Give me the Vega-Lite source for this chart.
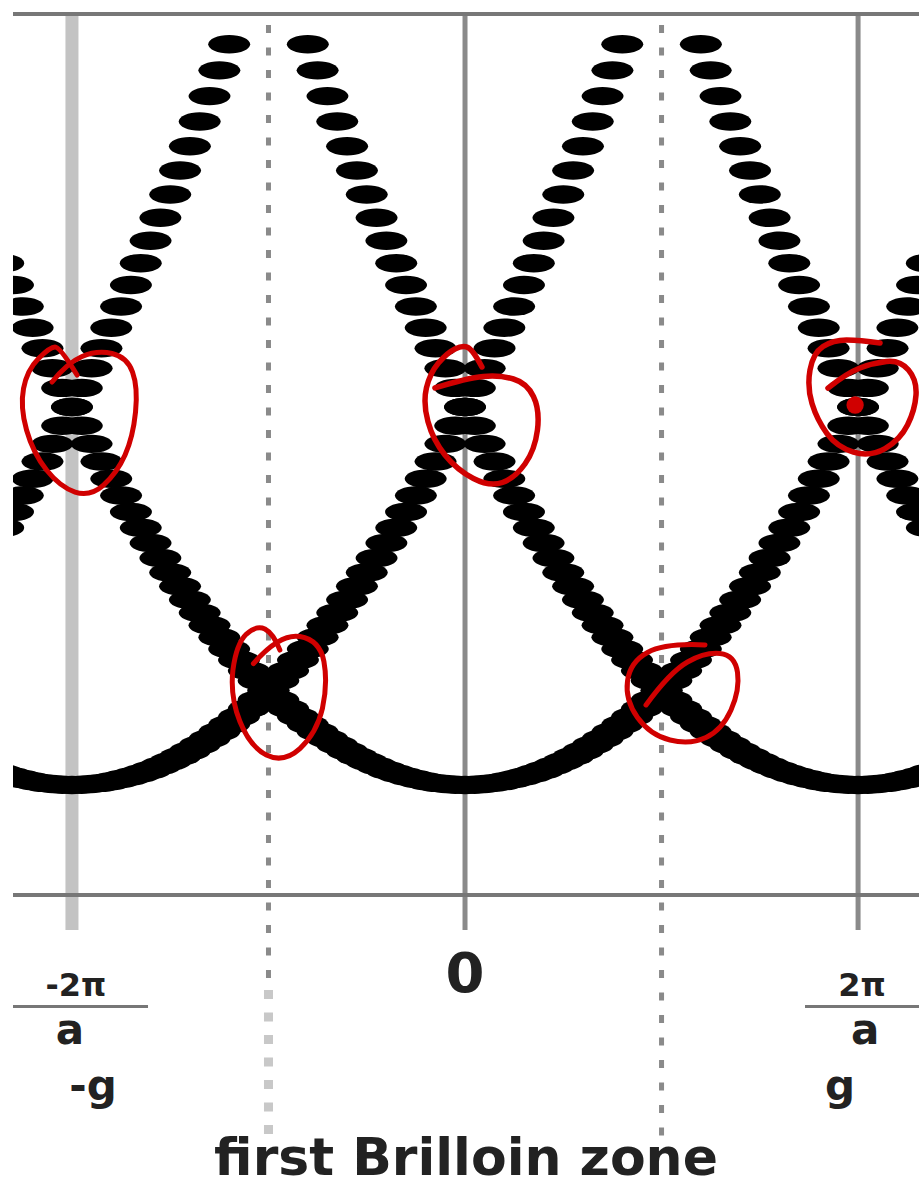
{
  "$schema": "https://vega.github.io/schema/vega-lite/v6.json",
  "width": 906,
  "height": 881,
  "autosize": {"type": "none"},
  "padding": {"left": 13, "top": 14, "right": 0, "bottom": 293},
  "background": "white",
  "config": {"view": {"stroke": null}},
  "datasets": {
    "bands": [
      {"b":"p0","k":-2.35,"E":5.5225},{"b":"p0","k":-2.3,"E":5.29},{"b":"p0","k":-2.25,"E":5.0625},{"b":"p0","k":-2.2,"E":4.84},
      {"b":"p0","k":-2.15,"E":4.6225},{"b":"p0","k":-2.1,"E":4.41},{"b":"p0","k":-2.05,"E":4.2025},{"b":"p0","k":-2,"E":4},
      {"b":"p0","k":-1.95,"E":3.8025},{"b":"p0","k":-1.9,"E":3.61},{"b":"p0","k":-1.85,"E":3.4225},{"b":"p0","k":-1.8,"E":3.24},
      {"b":"p0","k":-1.75,"E":3.0625},{"b":"p0","k":-1.7,"E":2.89},{"b":"p0","k":-1.65,"E":2.7225},{"b":"p0","k":-1.6,"E":2.56},
      {"b":"p0","k":-1.55,"E":2.4025},{"b":"p0","k":-1.5,"E":2.25},{"b":"p0","k":-1.45,"E":2.1025},{"b":"p0","k":-1.4,"E":1.96},
      {"b":"p0","k":-1.35,"E":1.8225},{"b":"p0","k":-1.3,"E":1.69},{"b":"p0","k":-1.25,"E":1.5625},{"b":"p0","k":-1.2,"E":1.44},
      {"b":"p0","k":-1.15,"E":1.3225},{"b":"p0","k":-1.1,"E":1.21},{"b":"p0","k":-1.05,"E":1.1025},{"b":"p0","k":-1,"E":1},
      {"b":"p0","k":-0.95,"E":0.9025},{"b":"p0","k":-0.9,"E":0.81},{"b":"p0","k":-0.85,"E":0.7225},{"b":"p0","k":-0.8,"E":0.64},
      {"b":"p0","k":-0.75,"E":0.5625},{"b":"p0","k":-0.7,"E":0.49},{"b":"p0","k":-0.65,"E":0.4225},{"b":"p0","k":-0.6,"E":0.36},
      {"b":"p0","k":-0.55,"E":0.3025},{"b":"p0","k":-0.5,"E":0.25},{"b":"p0","k":-0.45,"E":0.2025},{"b":"p0","k":-0.4,"E":0.16},
      {"b":"p0","k":-0.35,"E":0.1225},{"b":"p0","k":-0.3,"E":0.09},{"b":"p0","k":-0.25,"E":0.0625},{"b":"p0","k":-0.2,"E":0.04},
      {"b":"p0","k":-0.15,"E":0.0225},{"b":"p0","k":-0.1,"E":0.01},{"b":"p0","k":-0.05,"E":0.0025},{"b":"p0","k":0,"E":0},
      {"b":"p0","k":0.05,"E":0.0025},{"b":"p0","k":0.1,"E":0.01},{"b":"p0","k":0.15,"E":0.0225},{"b":"p0","k":0.2,"E":0.04},
      {"b":"p0","k":0.25,"E":0.0625},{"b":"p0","k":0.3,"E":0.09},{"b":"p0","k":0.35,"E":0.1225},{"b":"p0","k":0.4,"E":0.16},
      {"b":"p0","k":0.45,"E":0.2025},{"b":"p0","k":0.5,"E":0.25},{"b":"p0","k":0.55,"E":0.3025},{"b":"p0","k":0.6,"E":0.36},
      {"b":"p0","k":0.65,"E":0.4225},{"b":"p0","k":0.7,"E":0.49},{"b":"p0","k":0.75,"E":0.5625},{"b":"p0","k":0.8,"E":0.64},
      {"b":"p0","k":0.85,"E":0.7225},{"b":"p0","k":0.9,"E":0.81},{"b":"p0","k":0.95,"E":0.9025},{"b":"p0","k":1,"E":1},
      {"b":"p0","k":1.05,"E":1.1025},{"b":"p0","k":1.1,"E":1.21},{"b":"p0","k":1.15,"E":1.3225},{"b":"p0","k":1.2,"E":1.44},
      {"b":"p0","k":1.25,"E":1.5625},{"b":"p0","k":1.3,"E":1.69},{"b":"p0","k":1.35,"E":1.8225},{"b":"p0","k":1.4,"E":1.96},
      {"b":"p0","k":1.45,"E":2.1025},{"b":"p0","k":1.5,"E":2.25},{"b":"p0","k":1.55,"E":2.4025},{"b":"p0","k":1.6,"E":2.56},
      {"b":"p0","k":1.65,"E":2.7225},{"b":"p0","k":1.7,"E":2.89},{"b":"p0","k":1.75,"E":3.0625},{"b":"p0","k":1.8,"E":3.24},
      {"b":"p0","k":1.85,"E":3.4225},{"b":"p0","k":1.9,"E":3.61},{"b":"p0","k":1.95,"E":3.8025},{"b":"p0","k":2,"E":4},
      {"b":"p0","k":2.05,"E":4.2025},{"b":"p0","k":2.1,"E":4.41},{"b":"p0","k":2.15,"E":4.6225},{"b":"p0","k":2.2,"E":4.84},
      {"b":"p0","k":2.25,"E":5.0625},{"b":"p0","k":2.3,"E":5.29},{"b":"p0","k":2.35,"E":5.5225},

      {"b":"m2","k":-2.35,"E":0.1225},{"b":"m2","k":-2.3,"E":0.09},{"b":"m2","k":-2.25,"E":0.0625},{"b":"m2","k":-2.2,"E":0.04},
      {"b":"m2","k":-2.15,"E":0.0225},{"b":"m2","k":-2.1,"E":0.01},{"b":"m2","k":-2.05,"E":0.0025},{"b":"m2","k":-2,"E":0},
      {"b":"m2","k":-1.95,"E":0.0025},{"b":"m2","k":-1.9,"E":0.01},{"b":"m2","k":-1.85,"E":0.0225},{"b":"m2","k":-1.8,"E":0.04},
      {"b":"m2","k":-1.75,"E":0.0625},{"b":"m2","k":-1.7,"E":0.09},{"b":"m2","k":-1.65,"E":0.1225},{"b":"m2","k":-1.6,"E":0.16},
      {"b":"m2","k":-1.55,"E":0.2025},{"b":"m2","k":-1.5,"E":0.25},{"b":"m2","k":-1.45,"E":0.3025},{"b":"m2","k":-1.4,"E":0.36},
      {"b":"m2","k":-1.35,"E":0.4225},{"b":"m2","k":-1.3,"E":0.49},{"b":"m2","k":-1.25,"E":0.5625},{"b":"m2","k":-1.2,"E":0.64},
      {"b":"m2","k":-1.15,"E":0.7225},{"b":"m2","k":-1.1,"E":0.81},{"b":"m2","k":-1.05,"E":0.9025},{"b":"m2","k":-1,"E":1},
      {"b":"m2","k":-0.95,"E":1.1025},{"b":"m2","k":-0.9,"E":1.21},{"b":"m2","k":-0.85,"E":1.3225},{"b":"m2","k":-0.8,"E":1.44},
      {"b":"m2","k":-0.75,"E":1.5625},{"b":"m2","k":-0.7,"E":1.69},{"b":"m2","k":-0.65,"E":1.8225},{"b":"m2","k":-0.6,"E":1.96},
      {"b":"m2","k":-0.55,"E":2.1025},{"b":"m2","k":-0.5,"E":2.25},{"b":"m2","k":-0.45,"E":2.4025},{"b":"m2","k":-0.4,"E":2.56},
      {"b":"m2","k":-0.35,"E":2.7225},{"b":"m2","k":-0.3,"E":2.89},{"b":"m2","k":-0.25,"E":3.0625},{"b":"m2","k":-0.2,"E":3.24},
      {"b":"m2","k":-0.15,"E":3.4225},{"b":"m2","k":-0.1,"E":3.61},{"b":"m2","k":-0.05,"E":3.8025},{"b":"m2","k":0,"E":4},
      {"b":"m2","k":0.05,"E":4.2025},{"b":"m2","k":0.1,"E":4.41},{"b":"m2","k":0.15,"E":4.6225},{"b":"m2","k":0.2,"E":4.84},
      {"b":"m2","k":0.25,"E":5.0625},{"b":"m2","k":0.3,"E":5.29},{"b":"m2","k":0.35,"E":5.5225},{"b":"m2","k":0.4,"E":5.76},
      {"b":"m2","k":0.45,"E":6.0025},{"b":"m2","k":0.5,"E":6.25},{"b":"m2","k":0.55,"E":6.5025},{"b":"m2","k":0.6,"E":6.76},
      {"b":"m2","k":0.65,"E":7.0225},{"b":"m2","k":0.7,"E":7.29},{"b":"m2","k":0.75,"E":7.5625},{"b":"m2","k":0.8,"E":7.84},

      {"b":"p2","k":2.35,"E":0.1225},{"b":"p2","k":2.3,"E":0.09},{"b":"p2","k":2.25,"E":0.0625},{"b":"p2","k":2.2,"E":0.04},
      {"b":"p2","k":2.15,"E":0.0225},{"b":"p2","k":2.1,"E":0.01},{"b":"p2","k":2.05,"E":0.0025},{"b":"p2","k":2,"E":0},
      {"b":"p2","k":1.95,"E":0.0025},{"b":"p2","k":1.9,"E":0.01},{"b":"p2","k":1.85,"E":0.0225},{"b":"p2","k":1.8,"E":0.04},
      {"b":"p2","k":1.75,"E":0.0625},{"b":"p2","k":1.7,"E":0.09},{"b":"p2","k":1.65,"E":0.1225},{"b":"p2","k":1.6,"E":0.16},
      {"b":"p2","k":1.55,"E":0.2025},{"b":"p2","k":1.5,"E":0.25},{"b":"p2","k":1.45,"E":0.3025},{"b":"p2","k":1.4,"E":0.36},
      {"b":"p2","k":1.35,"E":0.4225},{"b":"p2","k":1.3,"E":0.49},{"b":"p2","k":1.25,"E":0.5625},{"b":"p2","k":1.2,"E":0.64},
      {"b":"p2","k":1.15,"E":0.7225},{"b":"p2","k":1.1,"E":0.81},{"b":"p2","k":1.05,"E":0.9025},{"b":"p2","k":1,"E":1},
      {"b":"p2","k":0.95,"E":1.1025},{"b":"p2","k":0.9,"E":1.21},{"b":"p2","k":0.85,"E":1.3225},{"b":"p2","k":0.8,"E":1.44},
      {"b":"p2","k":0.75,"E":1.5625},{"b":"p2","k":0.7,"E":1.69},{"b":"p2","k":0.65,"E":1.8225},{"b":"p2","k":0.6,"E":1.96},
      {"b":"p2","k":0.55,"E":2.1025},{"b":"p2","k":0.5,"E":2.25},{"b":"p2","k":0.45,"E":2.4025},{"b":"p2","k":0.4,"E":2.56},
      {"b":"p2","k":0.35,"E":2.7225},{"b":"p2","k":0.3,"E":2.89},{"b":"p2","k":0.25,"E":3.0625},{"b":"p2","k":0.2,"E":3.24},
      {"b":"p2","k":0.15,"E":3.4225},{"b":"p2","k":0.1,"E":3.61},{"b":"p2","k":0.05,"E":3.8025},{"b":"p2","k":0,"E":4},
      {"b":"p2","k":-0.05,"E":4.2025},{"b":"p2","k":-0.1,"E":4.41},{"b":"p2","k":-0.15,"E":4.6225},{"b":"p2","k":-0.2,"E":4.84},
      {"b":"p2","k":-0.25,"E":5.0625},{"b":"p2","k":-0.3,"E":5.29},{"b":"p2","k":-0.35,"E":5.5225},{"b":"p2","k":-0.4,"E":5.76},
      {"b":"p2","k":-0.45,"E":6.0025},{"b":"p2","k":-0.5,"E":6.25},{"b":"p2","k":-0.55,"E":6.5025},{"b":"p2","k":-0.6,"E":6.76},
      {"b":"p2","k":-0.65,"E":7.0225},{"b":"p2","k":-0.7,"E":7.29},{"b":"p2","k":-0.75,"E":7.5625},{"b":"p2","k":-0.8,"E":7.84},

      {"b":"m4","k":-2.35,"E":2.7225},{"b":"m4","k":-2.3,"E":2.89},{"b":"m4","k":-2.25,"E":3.0625},{"b":"m4","k":-2.2,"E":3.24},
      {"b":"m4","k":-2.15,"E":3.4225},{"b":"m4","k":-2.1,"E":3.61},{"b":"m4","k":-2.05,"E":3.8025},{"b":"m4","k":-2,"E":4},
      {"b":"m4","k":-1.95,"E":4.2025},{"b":"m4","k":-1.9,"E":4.41},{"b":"m4","k":-1.85,"E":4.6225},{"b":"m4","k":-1.8,"E":4.84},
      {"b":"m4","k":-1.75,"E":5.0625},{"b":"m4","k":-1.7,"E":5.29},{"b":"m4","k":-1.65,"E":5.5225},{"b":"m4","k":-1.6,"E":5.76},
      {"b":"m4","k":-1.55,"E":6.0025},{"b":"m4","k":-1.5,"E":6.25},{"b":"m4","k":-1.45,"E":6.5025},{"b":"m4","k":-1.4,"E":6.76},
      {"b":"m4","k":-1.35,"E":7.0225},{"b":"m4","k":-1.3,"E":7.29},{"b":"m4","k":-1.25,"E":7.5625},{"b":"m4","k":-1.2,"E":7.84},

      {"b":"p4","k":2.35,"E":2.7225},{"b":"p4","k":2.3,"E":2.89},{"b":"p4","k":2.25,"E":3.0625},{"b":"p4","k":2.2,"E":3.24},
      {"b":"p4","k":2.15,"E":3.4225},{"b":"p4","k":2.1,"E":3.61},{"b":"p4","k":2.05,"E":3.8025},{"b":"p4","k":2,"E":4},
      {"b":"p4","k":1.95,"E":4.2025},{"b":"p4","k":1.9,"E":4.41},{"b":"p4","k":1.85,"E":4.6225},{"b":"p4","k":1.8,"E":4.84},
      {"b":"p4","k":1.75,"E":5.0625},{"b":"p4","k":1.7,"E":5.29},{"b":"p4","k":1.65,"E":5.5225},{"b":"p4","k":1.6,"E":5.76},
      {"b":"p4","k":1.55,"E":6.0025},{"b":"p4","k":1.5,"E":6.25},{"b":"p4","k":1.45,"E":6.5025},{"b":"p4","k":1.4,"E":6.76},
      {"b":"p4","k":1.35,"E":7.0225},{"b":"p4","k":1.3,"E":7.29},{"b":"p4","k":1.25,"E":7.5625},{"b":"p4","k":1.2,"E":7.84}
    ]
  },
  "layer": [
    {
      "data": {"values": [{"k": -2, "E": 8.159, "E2": -1.534}]},
      "mark": {"type": "rule", "color": "#c3c3c3", "strokeWidth": 13},
      "encoding": {
        "x": {"field": "k", "type": "quantitative", "scale": {"domain": [-2.3, 2.31], "nice": false, "zero": false}, "axis": null},
        "y": {"field": "E", "type": "quantitative", "scale": {"domain": [-1.164, 8.159], "nice": false, "zero": false}, "axis": null},
        "y2": {"field": "E2"}
      }
    },
    {
      "data": {"values": [{"k": 0, "E": 8.159, "E2": -1.534}, {"k": 2, "E": 8.159, "E2": -1.534}]},
      "mark": {"type": "rule", "color": "#8a8a8a", "strokeWidth": 5},
      "encoding": {
        "x": {"field": "k", "type": "quantitative", "scale": {"domain": [-2.3, 2.31], "nice": false, "zero": false}, "axis": null},
        "y": {"field": "E", "type": "quantitative", "scale": {"domain": [-1.164, 8.159], "nice": false, "zero": false}, "axis": null},
        "y2": {"field": "E2"}
      }
    },
    {
      "data": {"values": [{"k": -1, "E": 8.159, "E2": -2.12}, {"k": 1, "E": 8.159, "E2": -3.757}]},
      "mark": {"type": "rule", "color": "#8a8a8a", "strokeWidth": 5, "strokeDash": [8, 14.5], "strokeDashOffset": 11.5},
      "encoding": {
        "x": {"field": "k", "type": "quantitative", "scale": {"domain": [-2.3, 2.31], "nice": false, "zero": false}, "axis": null},
        "y": {"field": "E", "type": "quantitative", "scale": {"domain": [-1.164, 8.159], "nice": false, "zero": false}, "axis": null},
        "y2": {"field": "E2"}
      }
    },
    {
      "data": {"values": [{"k": -1, "E": -2.17, "E2": -3.757}]},
      "mark": {"type": "rule", "color": "#c8c8c8", "strokeWidth": 9, "strokeDash": [9, 13.5]},
      "encoding": {
        "x": {"field": "k", "type": "quantitative", "scale": {"domain": [-2.3, 2.31], "nice": false, "zero": false}, "axis": null},
        "y": {"field": "E", "type": "quantitative", "scale": {"domain": [-1.164, 8.159], "nice": false, "zero": false}, "axis": null},
        "y2": {"field": "E2"}
      }
    },
    {
      "data": {"values": [{"E": 8.159}, {"E": -1.164}]},
      "mark": {"type": "rule", "color": "#777777", "strokeWidth": 4},
      "encoding": {
        "y": {"field": "E", "type": "quantitative", "scale": {"domain": [-1.164, 8.159], "nice": false, "zero": false}, "axis": null}
      }
    },
    {
      "data": {"name": "bands"},
      "mark": {
        "type": "point",
        "shape": "M-1,0C-1,-0.243,-0.552,-0.44,0,-0.44C0.552,-0.44,1,-0.243,1,0C1,0.243,0.552,0.44,0,0.44C-0.552,0.44,-1,0.243,-1,0Z",
        "size": 1764,
        "filled": true,
        "color": "#000000",
        "opacity": 1,
        "clip": true
      },
      "encoding": {
        "x": {"field": "k", "type": "quantitative", "scale": {"domain": [-2.3, 2.31], "nice": false, "zero": false}, "axis": null},
        "y": {"field": "E", "type": "quantitative", "scale": {"domain": [-1.164, 8.159], "nice": false, "zero": false}, "axis": null}
      }
    },
    {
      "data": {"values": [{"k": -2.3, "k2": -1.613, "E": -2.344}, {"k": 1.73, "k2": 2.31, "E": -2.344}]},
      "mark": {"type": "rule", "color": "#777777", "strokeWidth": 3},
      "encoding": {
        "x": {"field": "k", "type": "quantitative", "scale": {"domain": [-2.3, 2.31], "nice": false, "zero": false}, "axis": null},
        "x2": {"field": "k2"},
        "y": {"field": "E", "type": "quantitative", "scale": {"domain": [-1.164, 8.159], "nice": false, "zero": false}, "axis": null}
      }
    },
    {
      "data": {"values": [{"k": -1.964, "E": 3.841}]},
      "mark": {"type": "point", "filled": false, "stroke": "#d00000", "strokeWidth": 5, "strokeCap": "round", "opacity": 1, "size": 10000,
        "shape": "M-0.54,-0.8 Q-0.24,-1.18 0.06,-1.31 Q0.36,-1.44 0.66,-1.37 Q0.96,-1.3 1.07,-1.0 Q1.18,-0.7 1.13,-0.2 Q1.08,0.3 0.92,0.66 Q0.76,1.02 0.49,1.26 Q0.22,1.5 -0.08,1.4 Q-0.38,1.3 -0.65,0.96 Q-0.92,0.62 -1.05,0.16 Q-1.18,-0.3 -1.11,-0.67 Q-1.04,-1.04 -0.81,-1.27 Q-0.58,-1.5 -0.48,-1.5 Q-0.38,-1.5 -0.04,-0.94"},
      "encoding": {
        "x": {"field": "k", "type": "quantitative", "scale": {"domain": [-2.3, 2.31], "nice": false, "zero": false}, "axis": null},
        "y": {"field": "E", "type": "quantitative", "scale": {"domain": [-1.164, 8.159], "nice": false, "zero": false}, "axis": null}
      }
    },
    {
      "data": {"values": [{"k": 0.081, "E": 3.905}]},
      "mark": {"type": "point", "filled": false, "stroke": "#d00000", "strokeWidth": 5.5, "strokeCap": "round", "opacity": 1, "size": 10000,
        "shape": "M-0.92,-0.56 Q-0.28,-0.76 0.05,-0.79 Q0.38,-0.82 0.65,-0.74 Q0.92,-0.66 1.05,-0.39 Q1.18,-0.12 1.13,0.28 Q1.08,0.68 0.88,0.96 Q0.68,1.24 0.43,1.33 Q0.18,1.42 -0.15,1.25 Q-0.48,1.08 -0.72,0.78 Q-0.96,0.48 -1.06,0.11 Q-1.16,-0.26 -1.09,-0.56 Q-1.02,-0.86 -0.85,-1.06 Q-0.68,-1.26 -0.52,-1.34 Q-0.36,-1.42 -0.26,-1.37 Q-0.16,-1.32 0.02,-0.98"},
      "encoding": {
        "x": {"field": "k", "type": "quantitative", "scale": {"domain": [-2.3, 2.31], "nice": false, "zero": false}, "axis": null},
        "y": {"field": "E", "type": "quantitative", "scale": {"domain": [-1.164, 8.159], "nice": false, "zero": false}, "axis": null}
      }
    },
    {
      "data": {"values": [{"k": 2.02, "E": 4.095}]},
      "mark": {"type": "point", "filled": false, "stroke": "#d00000", "strokeWidth": 5.5, "strokeCap": "round", "opacity": 1, "size": 10000,
        "shape": "M-0.68,-0.2 Q-0.3,-0.5 -0.04,-0.6 Q0.22,-0.7 0.49,-0.73 Q0.76,-0.76 0.93,-0.56 Q1.1,-0.36 1.08,-0.06 Q1.06,0.24 0.91,0.54 Q0.76,0.84 0.46,1.01 Q0.16,1.18 -0.17,1.08 Q-0.5,0.98 -0.7,0.71 Q-0.9,0.44 -1.0,0.11 Q-1.1,-0.22 -1.04,-0.56 Q-0.98,-0.9 -0.78,-1.03 Q-0.58,-1.16 -0.31,-1.16 Q-0.04,-1.16 0.36,-1.1"},
      "encoding": {
        "x": {"field": "k", "type": "quantitative", "scale": {"domain": [-2.3, 2.31], "nice": false, "zero": false}, "axis": null},
        "y": {"field": "E", "type": "quantitative", "scale": {"domain": [-1.164, 8.159], "nice": false, "zero": false}, "axis": null}
      }
    },
    {
      "data": {"values": [{"k": -0.952, "E": 0.952}]},
      "mark": {"type": "point", "filled": false, "stroke": "#d00000", "strokeWidth": 5, "strokeCap": "round", "opacity": 1, "size": 10000,
        "shape": "M-0.49,-0.63 Q0.04,-1.24 0.44,-1.17 Q0.84,-1.1 0.92,-0.67 Q1.0,-0.23 0.89,0.27 Q0.77,0.77 0.44,1.07 Q0.11,1.37 -0.23,1.2 Q-0.56,1.03 -0.76,0.53 Q-0.96,0.03 -0.9,-0.5 Q-0.83,-1.03 -0.63,-1.22 Q-0.43,-1.4 -0.26,-1.32 Q-0.09,-1.23 0.04,-0.9"},
      "encoding": {
        "x": {"field": "k", "type": "quantitative", "scale": {"domain": [-2.3, 2.31], "nice": false, "zero": false}, "axis": null},
        "y": {"field": "E", "type": "quantitative", "scale": {"domain": [-1.164, 8.159], "nice": false, "zero": false}, "axis": null}
      }
    },
    {
      "data": {"values": [{"k": 1.099, "E": 0.974}]},
      "mark": {"type": "point", "filled": false, "stroke": "#d00000", "strokeWidth": 5, "strokeCap": "round", "opacity": 1, "size": 10000,
        "shape": "M-0.7,0.24 Q-0.22,-0.42 0.13,-0.62 Q0.48,-0.82 0.78,-0.79 Q1.08,-0.76 1.13,-0.41 Q1.18,-0.06 1.0,0.34 Q0.82,0.74 0.5,0.89 Q0.18,1.04 -0.22,0.94 Q-0.62,0.84 -0.87,0.49 Q-1.12,0.14 -1.07,-0.24 Q-1.02,-0.62 -0.67,-0.81 Q-0.32,-1.0 0.48,-0.96"},
      "encoding": {
        "x": {"field": "k", "type": "quantitative", "scale": {"domain": [-2.3, 2.31], "nice": false, "zero": false}, "axis": null},
        "y": {"field": "E", "type": "quantitative", "scale": {"domain": [-1.164, 8.159], "nice": false, "zero": false}, "axis": null}
      }
    },
    {
      "data": {"values": [{"k": 1.985, "E": 4.021}]},
      "mark": {"type": "point", "shape": "circle", "filled": true, "color": "#d00000", "opacity": 1, "size": 300},
      "encoding": {
        "x": {"field": "k", "type": "quantitative", "scale": {"domain": [-2.3, 2.31], "nice": false, "zero": false}, "axis": null},
        "y": {"field": "E", "type": "quantitative", "scale": {"domain": [-1.164, 8.159], "nice": false, "zero": false}, "axis": null}
      }
    },
    {
      "data": {"values": [{"k": -1.98, "E": -2.233, "t": "-2π"}, {"k": 2.02, "E": -2.233, "t": "2π"}]},
      "mark": {"type": "text", "font": "DejaVu Sans", "fontWeight": "bold", "fontSize": 32, "color": "#222222", "align": "center", "baseline": "alphabetic"},
      "encoding": {
        "x": {"field": "k", "type": "quantitative", "scale": {"domain": [-2.3, 2.31], "nice": false, "zero": false}, "axis": null},
        "y": {"field": "E", "type": "quantitative", "scale": {"domain": [-1.164, 8.159], "nice": false, "zero": false}, "axis": null},
        "text": {"field": "t"}
      }
    },
    {
      "data": {"values": [{"k": -2.01, "E": -2.741, "t": "a"}, {"k": 2.036, "E": -2.741, "t": "a"}]},
      "mark": {"type": "text", "font": "DejaVu Sans", "fontWeight": "bold", "fontSize": 42, "color": "#222222", "align": "center", "baseline": "alphabetic"},
      "encoding": {
        "x": {"field": "k", "type": "quantitative", "scale": {"domain": [-2.3, 2.31], "nice": false, "zero": false}, "axis": null},
        "y": {"field": "E", "type": "quantitative", "scale": {"domain": [-1.164, 8.159], "nice": false, "zero": false}, "axis": null},
        "text": {"field": "t"}
      }
    },
    {
      "data": {"values": [{"k": -1.893, "E": -3.333, "t": "-g"}, {"k": 1.908, "E": -3.333, "t": "g"}]},
      "mark": {"type": "text", "font": "DejaVu Sans", "fontWeight": "bold", "fontSize": 42, "color": "#222222", "align": "center", "baseline": "alphabetic"},
      "encoding": {
        "x": {"field": "k", "type": "quantitative", "scale": {"domain": [-2.3, 2.31], "nice": false, "zero": false}, "axis": null},
        "y": {"field": "E", "type": "quantitative", "scale": {"domain": [-1.164, 8.159], "nice": false, "zero": false}, "axis": null},
        "text": {"field": "t"}
      }
    },
    {
      "data": {"values": [{"k": 0, "E": -2.19, "t": "0"}]},
      "mark": {"type": "text", "font": "DejaVu Sans", "fontWeight": "bold", "fontSize": 56, "color": "#222222", "align": "center", "baseline": "alphabetic"},
      "encoding": {
        "x": {"field": "k", "type": "quantitative", "scale": {"domain": [-2.3, 2.31], "nice": false, "zero": false}, "axis": null},
        "y": {"field": "E", "type": "quantitative", "scale": {"domain": [-1.164, 8.159], "nice": false, "zero": false}, "axis": null},
        "text": {"field": "t"}
      }
    },
    {
      "data": {"values": [{"k": 0.005, "E": -4.127, "t": "first Brilloin zone"}]},
      "mark": {"type": "text", "font": "DejaVu Sans", "fontWeight": "bold", "fontSize": 52, "color": "#222222", "align": "center", "baseline": "alphabetic"},
      "encoding": {
        "x": {"field": "k", "type": "quantitative", "scale": {"domain": [-2.3, 2.31], "nice": false, "zero": false}, "axis": null},
        "y": {"field": "E", "type": "quantitative", "scale": {"domain": [-1.164, 8.159], "nice": false, "zero": false}, "axis": null},
        "text": {"field": "t"}
      }
    }
  ]
}
